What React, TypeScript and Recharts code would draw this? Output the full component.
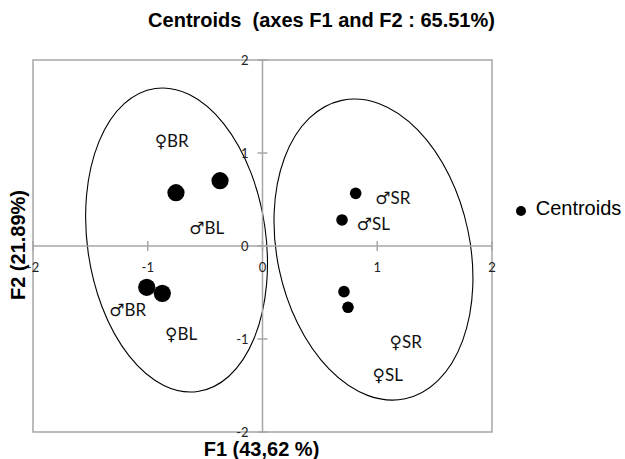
import React from 'react';
import {
  ScatterChart,
  Scatter,
  XAxis,
  YAxis,
  ReferenceLine,
  ReferenceArea,
  ReferenceDot,
  Legend,
  Customized,
} from 'recharts';

// ---- data ----
const chartTitle = 'Centroids  (axes F1 and F2 : 65.51%)';
const xAxisTitle = 'F1 (43,62 %)';
const yAxisTitle = 'F2 (21.89%)';
const seriesName = 'Centroids';

const xTicks = [-2, -1, 0, 1, 2];
const yTicks = [-2, -1, 0, 1, 2];

const pointX = [-0.754, -0.37, -1.009, -0.873, 0.812, 0.693, 0.71, 0.745];
const pointY = [0.573, 0.702, -0.444, -0.509, 0.566, 0.28, -0.491, -0.659];
const pointGroup = ['B', 'B', 'B', 'B', 'S', 'S', 'S', 'S'];

const labelText = ['♀BR', '♂BL', '♂BR', '♀BL', '♂SR', '♂SL', '♀SR', '♀SL'];
const labelX = [-0.791, -0.486, -1.175, -0.71, 1.135, 0.966, 1.248, 1.091];
const labelY = [1.132, 0.201, -0.688, -0.946, 0.524, 0.244, -1.029, -1.387];

const ellipseCX = [-0.749, 0.967];
const ellipseCY = [0.065, -0.038];
const ellipseRX = [0.778, 0.84];
const ellipseRY = [1.645, 1.64];
const ellipseAngle = [-8, -12];

// ---- derived tables ----
const points = pointX.map((x, i) => ({ x, y: pointY[i], group: pointGroup[i] }));
const labels = labelX.map((x, i) => ({ x, y: labelY[i], name: labelText[i] }));
const ellipses = ellipseCX.map((cx, i) => ({
  x1: cx - ellipseRX[i],
  x2: cx + ellipseRX[i],
  y1: ellipseCY[i] - ellipseRY[i],
  y2: ellipseCY[i] + ellipseRY[i],
  angle: ellipseAngle[i],
}));

const GRAY = '#a6a6a6';
const ARIAL = "'Liberation Sans', Arial, sans-serif";
const LABEL_FONT = "Lato, 'DejaVu Sans', sans-serif";

const makeEllipse = (angle: number) => (props: any) => {
  const { x, y, width, height } = props;
  const w = Math.abs(width);
  const h = Math.abs(height);
  const cx = x + w / 2;
  const cy = y + h / 2;
  return (
    <ellipse
      cx={cx}
      cy={cy}
      rx={w / 2}
      ry={h / 2}
      transform={`rotate(${angle} ${cx} ${cy})`}
      fill="none"
      stroke="#000"
      strokeWidth={1.1}
    />
  );
};

const makeXTick = (label: number) => (props: any) => {
  const { cx, cy } = props;
  return (
    <g>
      <line x1={cx} x2={cx} y1={cy - 5} y2={cy + 5} stroke={GRAY} strokeWidth={1.5} />
      <text
        x={cx}
        y={cy + 21}
        textAnchor="middle"
        dominantBaseline="central"
        fontFamily={LABEL_FONT}
        fontSize={13}
        fill="#222"
      >
        {label}
      </text>
    </g>
  );
};

const makeYTick = (label: number) => (props: any) => {
  const { cx, cy } = props;
  return (
    <g>
      <line x1={cx - 5} x2={cx + 5} y1={cy} y2={cy} stroke={GRAY} strokeWidth={1.5} />
      <text
        x={cx - 14}
        y={cy}
        textAnchor="end"
        dominantBaseline="central"
        fontFamily={LABEL_FONT}
        fontSize={13}
        fill="#222"
      >
        {label}
      </text>
    </g>
  );
};

const CentroidDot = (props: any) => {
  const { cx, cy, payload } = props;
  const r = payload.group === 'B' ? 8.6 : 5.8;
  return <circle cx={cx} cy={cy} r={r} fill="#000" />;
};

const PointLabel = (props: any) => {
  const { cx, cy, payload } = props;
  return (
    <text
      x={cx}
      y={cy}
      textAnchor="middle"
      dominantBaseline="central"
      fontFamily={LABEL_FONT}
      fontSize={17}
      fill="#111"
    >
      {payload.name}
    </text>
  );
};

const Title = () => (
  <text
    x={321.5}
    y={27}
    textAnchor="middle"
    fontFamily={ARIAL}
    fontWeight="bold"
    fontSize={20}
    fill="#000"
    style={{ whiteSpace: 'pre' }}
    xmlSpace="preserve"
  >
    {chartTitle}
  </text>
);

const XTitle = (props: any) => {
  const vb = props.viewBox || {};
  return (
    <text
      x={vb.x + vb.width / 2 - 1}
      y={vb.y + 23.5}
      textAnchor="middle"
      fontFamily={ARIAL}
      fontWeight="bold"
      fontSize={20}
      fill="#000"
    >
      {xAxisTitle}
    </text>
  );
};

const YTitle = (props: any) => {
  const vb = props.viewBox || {};
  const x = vb.x + 25;
  const y = vb.y + vb.height / 2 - 1;
  return (
    <text
      x={x}
      y={y}
      transform={`rotate(-90 ${x} ${y})`}
      textAnchor="middle"
      fontFamily={ARIAL}
      fontWeight="bold"
      fontSize={20}
      fill="#000"
    >
      {yAxisTitle}
    </text>
  );
};

export default function App() {
  return (
    <div style={{ position: 'absolute', left: 0, top: 0, width: 625, height: 459, background: '#fff' }}>
      <ScatterChart width={625} height={459} margin={{ top: 60, right: 133, bottom: 0, left: 0 }}>
        <XAxis
          type="number"
          dataKey="x"
          domain={[-2, 2]}
          ticks={xTicks}
          allowDataOverflow
          tick={false}
          tickLine={false}
          axisLine={false}
          height={27}
          label={XTitle}
        />
        <YAxis
          type="number"
          dataKey="y"
          domain={[-2, 2]}
          ticks={yTicks}
          allowDataOverflow
          tick={false}
          tickLine={false}
          axisLine={false}
          width={33}
          label={YTitle}
        />
        <ReferenceArea x1={-2} x2={2} y1={-2} y2={2} fill="none" fillOpacity={0} stroke={GRAY} strokeWidth={1.5} ifOverflow="visible" />
        <ReferenceLine x={0} stroke={GRAY} strokeWidth={1.5} />
        <ReferenceLine y={0} stroke={GRAY} strokeWidth={1.5} />
        {ellipses.map((e, i) => (
          <ReferenceArea
            key={`ell-${i}`}
            x1={e.x1}
            x2={e.x2}
            y1={e.y1}
            y2={e.y2}
            ifOverflow="visible"
            shape={makeEllipse(e.angle)}
          />
        ))}
        {xTicks.map((t) => (
          <ReferenceDot key={`xt-${t}`} x={t} y={0} r={1} ifOverflow="visible" shape={makeXTick(t)} />
        ))}
        {yTicks.map((t) => (
          <ReferenceDot key={`yt-${t}`} x={0} y={t} r={1} ifOverflow="visible" shape={makeYTick(t)} />
        ))}
        <Scatter
          name={seriesName}
          data={points}
          fill="#000"
          shape={CentroidDot}
          legendType="circle"
          isAnimationActive={false}
        />
        <Scatter
          name="labels"
          data={labels}
          fill="#000"
          shape={PointLabel}
          legendType="none"
          isAnimationActive={false}
        />
        <Legend
          layout="horizontal"
          verticalAlign="middle"
          align="center"
          iconSize={10}
          wrapperStyle={{ left: 515.7, top: 196, width: 'auto', lineHeight: '24px' }}
          formatter={(value: any) => (
            <span style={{ color: '#000', fontFamily: ARIAL, fontSize: 20, marginLeft: 6 }}>{value}</span>
          )}
        />
        <Customized component={Title} />
      </ScatterChart>
    </div>
  );
}
